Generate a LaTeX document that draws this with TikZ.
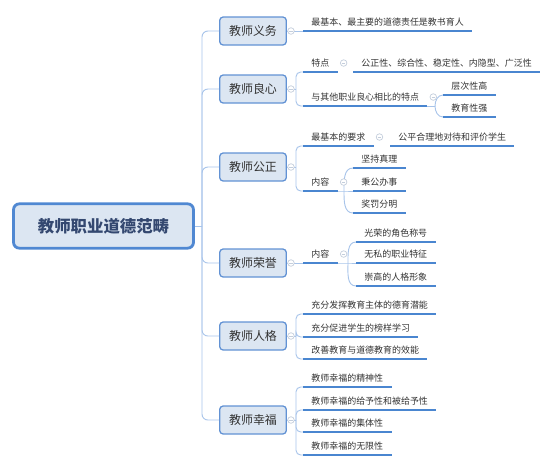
\documentclass[tikz,border=0pt]{standalone}
\usepackage{fontspec}
\setmainfont{Noto Sans CJK SC}
\usepackage{xcolor}
\usepackage{tikz}
\usetikzlibrary{positioning, calc}
\definecolor{boxfill}{RGB}{220, 230, 242}
\definecolor{boxline}{RGB}{98, 146, 212}
\definecolor{rootline}{RGB}{80, 136, 210}
\definecolor{roottext}{RGB}{52, 72, 112}
\definecolor{ulcolor}{RGB}{74, 134, 208}
\definecolor{conncolor}{RGB}{168, 196, 234}
\definecolor{foldgray}{RGB}{196, 206, 220}
\definecolor{leafgray}{RGB}{51, 51, 51}

\begin{document}
\begin{tikzpicture}[
    x=0.03cm, y=-0.03cm,
    % Root topic
    root/.style={rectangle, rounded corners=5pt, draw=rootline, line width=2.4pt, fill=boxfill,
      minimum width=5.4cm, minimum height=1.33cm, text=roottext,
      font=\fontsize{14pt}{16pt}\selectfont\bfseries},
    % Main topics
    topic/.style={rectangle, rounded corners=3pt, draw=boxline, line width=1.1pt, fill=boxfill,
      minimum width=2.0cm, minimum height=0.84cm, text=leafgray,
      font=\fontsize{10.2pt}{12pt}\selectfont},
    % Sub topics (text over a blue line)
    leaf/.style={anchor=south west, inner xsep=7pt, inner ysep=3.6pt,
      text height=6.4pt, text depth=1.3pt, text=leafgray,
      font=\fontsize{7.65pt}{9pt}\selectfont},
    uline/.style={ulcolor, line width=1.7pt},
    conn/.style={conncolor, line width=0.8pt},
    % Collapse marker
    fold/.style={circle, draw=foldgray, fill=white, line width=0.6pt, minimum size=5.6pt, inner sep=0pt,
      path picture={\draw[foldgray, line width=0.6pt]
        ([xshift=-1.5pt]path picture bounding box.center) -- ([xshift=1.5pt]path picture bounding box.center);}}
]
    \useasboundingbox (0,0) rectangle (554,466);

    % --- ROOT ---
    \node[root] (root) at (103.5,226) {教师职业道德范畴};
    \coordinate (trunk) at (202,226);

    % --- MAIN TOPICS ---
    \node[topic] (duty) at (253,31) {教师义务};
    \node[topic] (cons) at (253,89) {教师良心};
    \node[topic] (just) at (253,167) {教师公正};
    \node[topic] (hon)  at (253,263) {教师荣誉};
    \node[topic] (pers) at (253,336) {教师人格};
    \node[topic] (hap)  at (253,420) {教师幸福};

    \draw[conn] (root.east) -- (trunk);
    \foreach \b in {duty,cons,just,hon,pers,hap} {
        \draw[conn, rounded corners=5pt] (trunk) |- (\b.west);
    }

    % --- 教师义务 ---
    \node[leaf] (d1) at (303,31) {最基本、最主要的道德责任是教书育人};
    \draw[conn] (duty.east) -- (d1.south west);

    % --- 教师良心 ---
    \node[leaf] (c1) at (303,72) {特点};
    \node[leaf] (c1a) at (353,72) {公正性、综合性、稳定性、内隐型、广泛性};
    \node[leaf] (c2) at (303,106) {与其他职业良心相比的特点};
    \node[leaf] (c2a) at (443,95) {层次性高};
    \node[leaf] (c2b) at (443,117) {教育性强};
    \coordinate (consj) at (296,89);
    \draw[conn] (cons.east) -- (consj);
    \foreach \n in {c1,c2} {
        \draw[conn, rounded corners=4pt] (consj) |- (\n.south west);
    }
    \coordinate (c2j) at (435,106);
    \draw[conn] (c2.south east) -- (c2j);
    \draw[conn] (c2j) to[out=90,in=180] (c2a.south west);
    \draw[conn] (c2j) to[out=-90,in=180] (c2b.south west);

    % --- 教师公正 ---
    \node[leaf] (j1) at (303,146) {最基本的要求};
    \node[leaf] (j1a) at (390,146) {公平合理地对待和评价学生};
    \node[leaf] (j2) at (303,191) {内容};
    \node[leaf] (j2a) at (353,168) {坚持真理};
    \node[leaf] (j2b) at (353,191) {秉公办事};
    \node[leaf] (j2c) at (353,213) {奖罚分明};
    \coordinate (justj) at (296,167);
    \draw[conn] (just.east) -- (justj);
    \foreach \n in {j1,j2} {
        \draw[conn, rounded corners=4pt] (justj) |- (\n.south west);
    }
    \coordinate (j2j) at (344,191);
    \draw[conn] (j2.south east) -- (j2j) -- (j2b.south west);
    \draw[conn] (j2j) to[out=90,in=180] (j2a.south west);
    \draw[conn] (j2j) to[out=-90,in=180] (j2c.south west);

    % --- 教师荣誉 ---
    \node[leaf] (h1) at (303,263) {内容};
    \node[leaf] (h1a) at (356,242) {光荣的角色称号};
    \node[leaf] (h1b) at (356,263) {无私的职业特征};
    \node[leaf] (h1c) at (356,286) {崇高的人格形象};
    \draw[conn] (hon.east) -- (h1.south west);
    \coordinate (h1j) at (348,263);
    \draw[conn] (h1.south east) -- (h1j) -- (h1b.south west);
    \draw[conn] (h1j) to[out=90,in=180] (h1a.south west);
    \draw[conn] (h1j) to[out=-90,in=180] (h1c.south west);

    % --- 教师人格 ---
    \node[leaf] (p1) at (303,314) {充分发挥教育主体的德育潜能};
    \node[leaf] (p2) at (303,337) {充分促进学生的榜样学习};
    \node[leaf] (p3) at (303,359) {改善教育与道德教育的效能};
    \coordinate (persj) at (296,336);
    \draw[conn] (pers.east) -- (persj);
    \foreach \n in {p1,p2,p3} {
        \draw[conn, rounded corners=4pt] (persj) |- (\n.south west);
    }

    % --- 教师幸福 ---
    \node[leaf] (f1) at (303,387) {教师幸福的精神性};
    \node[leaf] (f2) at (303,410) {教师幸福的给予性和被给予性};
    \node[leaf] (f3) at (303,432) {教师幸福的集体性};
    \node[leaf] (f4) at (303,455) {教师幸福的无限性};
    \coordinate (hapj) at (296,420);
    \draw[conn] (hap.east) -- (hapj);
    \foreach \n in {f1,f2,f3,f4} {
        \draw[conn, rounded corners=4pt] (hapj) |- (\n.south west);
    }

    % --- UNDERLINES ---
    \foreach \n in {d1,c1,c1a,c2,c2a,c2b,j1,j1a,j2,j2a,j2b,j2c,h1,h1a,h1b,h1c,p1,p2,p3,f1,f2,f3,f4} {
        \draw[uline] (\n.south west) -- (\n.south east);
    }

    % --- COLLAPSE MARKERS ---
    \foreach \b in {duty,cons,just,hon,pers,hap} {
        \node[fold] (\b f) at ([xshift=3.4pt]\b.east) {};
    }
    \foreach \n in {c1,c2,j1,j2,h1} {
        \node[fold] (\n f) at ([xshift=5pt]\n.east) {};
    }

\end{tikzpicture}
\end{document}
